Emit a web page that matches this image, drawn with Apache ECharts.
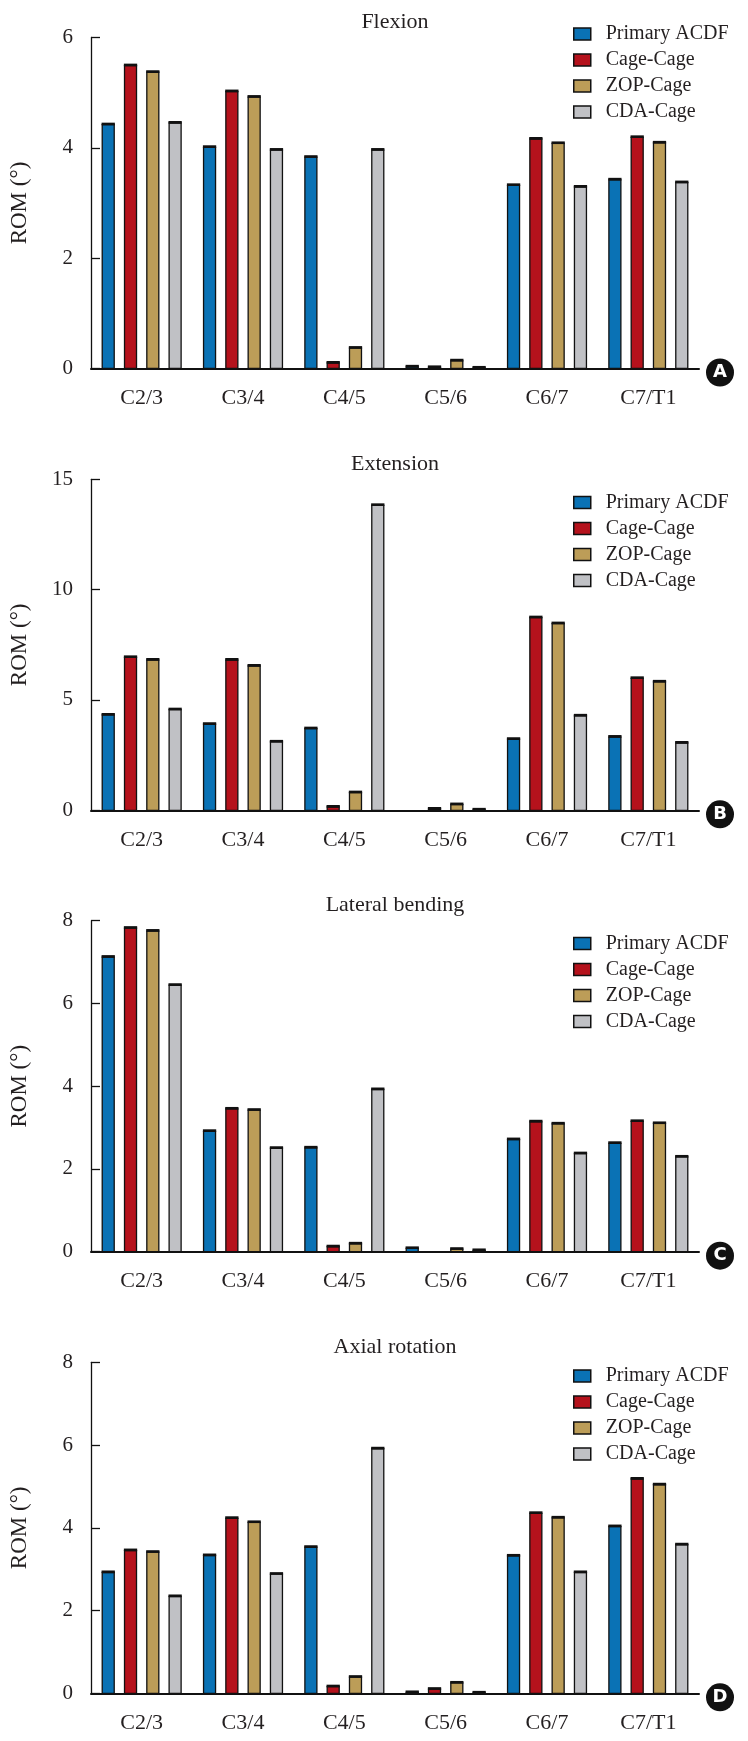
<!DOCTYPE html>
<html>
<head>
<meta charset="utf-8">
<script src="https://cdn.jsdelivr.net/npm/echarts@6/dist/echarts.min.js"></script>
<style>
html,body{margin:0;padding:0;background:#fff;}
#chart{width:748px;height:1741px;}
</style>
</head>
<body>
<div id="chart"></div>
<script>
const categories = ['C2/3', 'C3/4', 'C4/5', 'C5/6', 'C6/7', 'C7/T1'];
const groups = ['Primary ACDF', 'Cage-Cage', 'ZOP-Cage', 'CDA-Cage'];
const panelTitles = ['Flexion', 'Extension', 'Lateral bending', 'Axial rotation'];
const panelLetters = ['A', 'B', 'C', 'D'];
const yMax = [6, 15, 8, 8];
const yInterval = [2, 5, 2, 2];

// Flexion
const flexPrimary = [4.42, 4.01, 3.83, 0.03, 3.32, 3.42];
const flexCage    = [5.49, 5.02, 0.10, 0.02, 4.16, 4.19];
const flexZop     = [5.37, 4.92, 0.37, 0.14, 4.08, 4.09];
const flexCda     = [4.45, 3.96, 3.96, 0.01, 3.29, 3.37];
// Extension
const extPrimary = [4.32, 3.90, 3.70, 0.00, 3.22, 3.32];
const extCage    = [6.93, 6.81, 0.15, 0.06, 8.73, 5.98];
const extZop     = [6.81, 6.54, 0.80, 0.26, 8.46, 5.82];
const extCda     = [4.56, 3.10, 13.82, 0.02, 4.28, 3.05];
// Lateral bending
const latPrimary = [7.12, 2.91, 2.51, 0.08, 2.71, 2.62];
const latCage    = [7.82, 3.45, 0.12, 0.00, 3.14, 3.15];
const latZop     = [7.75, 3.42, 0.19, 0.06, 3.09, 3.10];
const latCda     = [6.44, 2.50, 3.92, 0.03, 2.37, 2.29];
// Axial rotation
const axPrimary = [2.92, 3.33, 3.53, 0.02, 3.32, 4.03];
const axCage    = [3.45, 4.23, 0.16, 0.10, 4.35, 5.18];
const axZop     = [3.41, 4.13, 0.39, 0.25, 4.24, 5.04];
const axCda     = [2.34, 2.88, 5.91, 0.01, 2.92, 3.59];

const panelData = [
  [flexPrimary, flexCage, flexZop, flexCda],
  [extPrimary, extCage, extZop, extCda],
  [latPrimary, latCage, latZop, latCda],
  [axPrimary, axCage, axZop, axCda]
];

const colors = ['#0a72b5', '#b5121c', '#bc9d58', '#c0c1c5'];
const FONT = 'Liberation Serif';
const TXT = '#231f20';

// layout (pixels)
const gridTop = [37.5, 479.3, 920.7, 1362.3];
const gridH = 331;
const gridLeft = 81;
const gridRight = 49;
const legendTop = [19, 487.5, 928.5, 1361];
const BAR_W = 12;
const BAR_STEP = 22.3;
const EDGE = 1.3;

function makeRender(s, color) {
  return function (params, api) {
    const v = api.value(1);
    if (!(v > 0)) return null;
    const top = api.coord([api.value(0), v]);
    const base = api.coord([api.value(0), 0]);
    const cx = top[0] + (s - 1.5) * BAR_STEP;
    const x = cx - BAR_W / 2;
    const h = base[1] - top[1];
    return {
      type: 'group',
      children: [
        {type: 'rect', shape: {x: x, y: top[1], width: BAR_W, height: h},
          style: {fill: color, stroke: '#111', lineWidth: EDGE}},
        {type: 'rect', shape: {x: x - EDGE / 2, y: top[1] - 2, width: BAR_W + EDGE, height: 2 + EDGE / 2},
          style: {fill: '#111'}}
      ]
    };
  };
}

const grids = [], xAxes = [], yAxes = [], series = [], legends = [], titles = [], graphics = [];

for (let p = 0; p < 4; p++) {
  grids.push({left: gridLeft, right: gridRight, top: gridTop[p], height: gridH, containLabel: false});
  xAxes.push({
    type: 'category', gridIndex: p, data: categories, z: 5,
    axisLine: {show: true, lineStyle: {color: '#111', width: 2}},
    axisTick: {show: false},
    axisLabel: {fontFamily: FONT, fontSize: 22, color: TXT, margin: 19},
    splitLine: {show: false}
  });
  yAxes.push({
    type: 'value', gridIndex: p, min: 0, max: yMax[p], interval: yInterval[p],
    name: 'ROM (°)', nameLocation: 'middle', nameGap: 60, nameRotate: 90,
    nameTextStyle: {fontFamily: FONT, fontSize: 23, color: TXT},
    axisLine: {show: true, lineStyle: {color: '#111', width: 1.3}},
    axisTick: {show: true, inside: true, length: 9, lineStyle: {color: '#111', width: 1.3}},
    axisLabel: {fontFamily: FONT, fontSize: 21, color: TXT, margin: 18},
    splitLine: {show: false}
  });
  titles.push({
    text: panelTitles[p], left: 390, top: gridTop[p] - 31, textAlign: 'center',
    textStyle: {fontFamily: FONT, fontSize: 22, fontWeight: 'normal', color: TXT}
  });
  legends.push({
    orient: 'vertical', left: 568, top: legendTop[p],
    data: groups, itemWidth: 17, itemHeight: 12, itemGap: 6,
    icon: 'rect', selectedMode: false,
    itemStyle: {borderColor: '#111', borderWidth: 1.5},
    textStyle: {fontFamily: FONT, fontSize: 20, color: TXT, lineHeight: 20, padding: [0, 0, 0, 10]}
  });
  for (let s = 0; s < 4; s++) {
    series.push({
      type: 'custom', name: groups[s], xAxisIndex: p, yAxisIndex: p,
      data: panelData[p][s].map((v, i) => [i, v]),
      encode: {x: 0, y: 1},
      itemStyle: {color: colors[s]},
      renderItem: makeRender(s, colors[s]),
      clip: false,
      animation: false
    });
  }
  graphics.push({
    type: 'group', left: 706, top: gridTop[p] + gridH - 10,
    children: [
      {type: 'circle', shape: {cx: 14, cy: 14, r: 14}, style: {fill: '#111'}},
      {type: 'text', x: 14, y: 14, style: {text: panelLetters[p], fill: '#fff', font: 'bold 18px "DejaVu Sans"', align: 'center', verticalAlign: 'middle'}}
    ]
  });
}

const chart = echarts.init(document.getElementById('chart'), null, {renderer: 'canvas'});
chart.setOption({
  animation: false,
  backgroundColor: '#fff',
  title: titles,
  legend: legends,
  grid: grids,
  xAxis: xAxes,
  yAxis: yAxes,
  series: series,
  graphic: graphics
});
</script>
</body>
</html>
